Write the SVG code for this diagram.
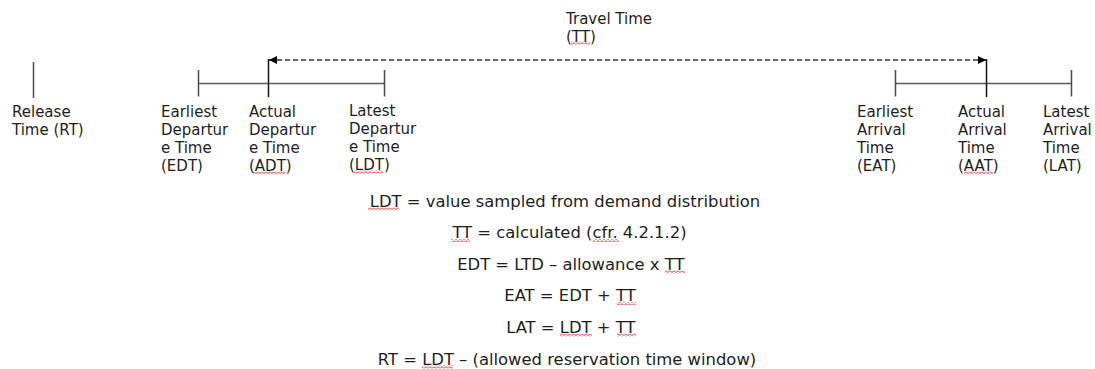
<svg xmlns="http://www.w3.org/2000/svg" width="1095" height="369" viewBox="0 0 1095 369">
<style>
.lbl{font-family:"DejaVu Sans","Liberation Sans",sans-serif;font-size:15px;fill:#1e1e1e}
.eq{font-family:"DejaVu Sans","Liberation Sans",sans-serif;font-size:16.4px;fill:#1e1e1e;text-anchor:middle}
.tick{stroke:#4a4a4a;stroke-width:1.5;fill:none}
.mark{stroke:#111;stroke-width:1.5;fill:none}
.bar{stroke:#5a5a5a;stroke-width:1.5;fill:none}
.dash{stroke:#333;stroke-width:1.5;stroke-dasharray:5 3;fill:none}
.sq{fill:url(#squig)}
</style>
<defs>
<pattern id="squig" width="4" height="3" patternUnits="userSpaceOnUse">
<path d="M0,2.5 L2,0.7 L4,2.5" stroke="#e02020" stroke-width="0.9" fill="none"/>
</pattern>
<marker id="ah" viewBox="0 0 8 8" refX="8" refY="4" markerWidth="8" markerHeight="8" markerUnits="userSpaceOnUse" orient="auto-start-reverse">
<path d="M0,0 L8,4 L0,8 Z" fill="#000"/>
</marker>
</defs>

<g id="connectors">
<line class="bar" x1="198.5" y1="83.5" x2="384.5" y2="83.5"/>
<line class="bar" x1="895.5" y1="83.5" x2="1071.5" y2="83.5"/>
<line class="dash" x1="269" y1="60" x2="986" y2="60" marker-start="url(#ah)" marker-end="url(#ah)"/>
</g>

<g id="node-tt">
<text class="lbl" x="566" y="23.5">Travel Time</text>
<text class="lbl" x="566" y="41.5">(TT)</text>
<rect class="sq" x="571" y="41.5" width="19" height="3"/>
</g>

<g id="node-rt">
<line class="tick" x1="33.5" y1="62" x2="33.5" y2="98"/>
<text class="lbl" x="12" y="117.3">Release</text>
<text class="lbl" x="12" y="135.3">Time (RT)</text>
</g>

<g id="node-edt">
<line class="tick" x1="198.5" y1="70" x2="198.5" y2="96.5"/>
<text class="lbl" x="161" y="117.3">Earliest</text>
<text class="lbl" x="161" y="135.3">Departur</text>
<text class="lbl" x="161" y="153.3">e Time</text>
<text class="lbl" x="161" y="171.3">(EDT)</text>
</g>

<g id="node-adt">
<line class="mark" x1="268.5" y1="59" x2="268.5" y2="97"/>
<text class="lbl" x="249" y="116.7">Actual</text>
<text class="lbl" x="249" y="134.7">Departur</text>
<text class="lbl" x="249" y="152.7">e Time</text>
<text class="lbl" x="249" y="170.7">(ADT)</text>
<rect class="sq" x="253" y="171.5" width="32" height="3"/>
</g>

<g id="node-ldt">
<line class="tick" x1="384.5" y1="70" x2="384.5" y2="96.5"/>
<text class="lbl" x="349" y="115.5">Latest</text>
<text class="lbl" x="349" y="133.5">Departur</text>
<text class="lbl" x="349" y="151.5">e Time</text>
<text class="lbl" x="349" y="169.5">(LDT)</text>
<rect class="sq" x="354" y="170.5" width="29" height="3"/>
</g>

<g id="node-eat">
<line class="tick" x1="895.5" y1="70" x2="895.5" y2="96.5"/>
<text class="lbl" x="857" y="117.2">Earliest</text>
<text class="lbl" x="857" y="135.2">Arrival</text>
<text class="lbl" x="857" y="153.2">Time</text>
<text class="lbl" x="857" y="171.2">(EAT)</text>
</g>

<g id="node-aat">
<line class="mark" x1="986.5" y1="59" x2="986.5" y2="97"/>
<text class="lbl" x="958" y="116.7">Actual</text>
<text class="lbl" x="958" y="134.7">Arrival</text>
<text class="lbl" x="958" y="152.7">Time</text>
<text class="lbl" x="958" y="170.7">(AAT)</text>
<rect class="sq" x="964" y="171.5" width="29" height="3"/>
</g>

<g id="node-lat">
<line class="tick" x1="1071.5" y1="70" x2="1071.5" y2="96.5"/>
<text class="lbl" x="1043" y="117.3">Latest</text>
<text class="lbl" x="1043" y="135.3">Arrival</text>
<text class="lbl" x="1043" y="153.3">Time</text>
<text class="lbl" x="1043" y="171.3">(LAT)</text>
</g>

<g id="formulas">
<text class="eq" x="565" y="206.5">LDT = value sampled from demand distribution</text>
<text class="eq" x="569.5" y="238">TT = calculated (cfr. 4.2.1.2)</text>
<text class="eq" x="570.8" y="269.5">EDT = LTD – allowance x TT</text>
<text class="eq" x="570" y="301">EAT = EDT + TT</text>
<text class="eq" x="570.8" y="332.5">LAT = LDT + TT</text>
<text class="eq" x="567" y="364.5">RT = LDT – (allowed reservation time window)</text>
<rect class="sq" x="368" y="207.5" width="31" height="3"/>
<rect class="sq" x="451" y="239" width="19" height="3"/>
<rect class="sq" x="593" y="239" width="26" height="3"/>
<rect class="sq" x="665" y="270.5" width="20" height="3"/>
<rect class="sq" x="617" y="302" width="19" height="3"/>
<rect class="sq" x="560" y="333.5" width="32" height="3"/>
<rect class="sq" x="617" y="333.5" width="19" height="3"/>
<rect class="sq" x="422" y="365.5" width="31" height="3"/>
</g>
</svg>
